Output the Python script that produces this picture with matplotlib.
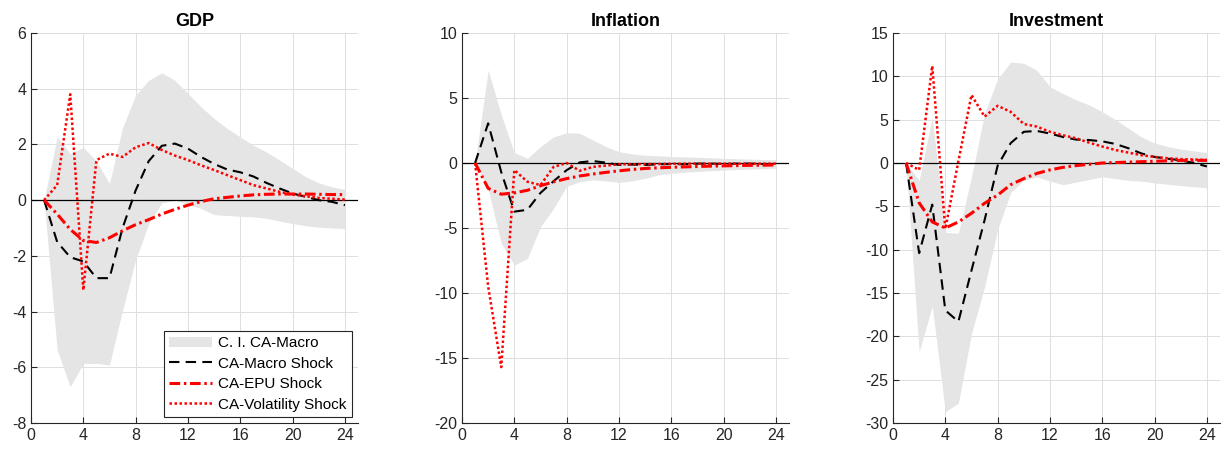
import numpy as np
import matplotlib
matplotlib.use('Agg')
import matplotlib.pyplot as plt

plt.rcParams['font.family'] = ['Liberation Sans', 'DejaVu Sans']
plt.rcParams['axes.unicode_minus'] = False

horizon = list(range(1, 25))

# GDP
gdp_macro = [0, -1.5, -2.05, -2.2, -2.8, -2.8, -1.0, 0.35, 1.4, 1.95, 2.03, 1.85,
             1.55, 1.3, 1.1, 1.0, 0.85, 0.62, 0.42, 0.24, 0.12, 0.0, -0.06, -0.18]
gdp_epu = [0, -0.5, -1.05, -1.45, -1.52, -1.35, -1.1, -0.88, -0.7, -0.5, -0.33, -0.18,
           -0.05, 0.05, 0.1, 0.15, 0.19, 0.21, 0.22, 0.22, 0.22, 0.21, 0.2, 0.2]
gdp_vol = [0, 0.54, 3.8, -3.23, 1.44, 1.67, 1.55, 1.9, 2.05, 1.8, 1.6, 1.44,
           1.25, 1.08, 0.9, 0.72, 0.54, 0.42, 0.3, 0.2, 0.14, 0.08, 0.05, 0.02]
gdp_hi = [0, 2.27, 1.67, 1.9, 1.4, 0.6, 2.6, 3.77, 4.3, 4.57, 4.3, 3.83,
          3.35, 2.93, 2.57, 2.27, 1.97, 1.73, 1.44, 1.14, 0.84, 0.62, 0.48, 0.38]
gdp_lo = [0, -5.38, -6.7, -5.86, -5.86, -5.92, -3.95, -2.15, -0.84, -0.1, 0.0, -0.15,
          -0.3, -0.52, -0.55, -0.58, -0.6, -0.65, -0.75, -0.84, -0.92, -0.97, -1.0, -1.02]

# Inflation
inf_macro = [0, 3.05, -0.7, -3.74, -3.6, -2.3, -1.4, -0.55, 0.05, 0.15, 0.03, -0.15,
             -0.12, -0.15, -0.1, -0.08, -0.1, -0.05, -0.05, -0.08, -0.05, -0.05, -0.08, -0.1]
inf_epu = [0, -1.95, -2.4, -2.3, -2.1, -1.75, -1.45, -1.2, -1.0, -0.85, -0.72, -0.6,
           -0.5, -0.42, -0.37, -0.33, -0.3, -0.27, -0.24, -0.22, -0.2, -0.18, -0.17, -0.15]
inf_vol = [0, -9.5, -15.7, -0.54, -1.44, -1.7, -0.3, 0.0, -0.6, -0.3, -0.2, -0.1,
           -0.1, -0.08, -0.08, -0.06, -0.05, -0.05, -0.05, -0.05, -0.05, -0.05, -0.05, -0.05]
inf_hi = [0, 7.15, 3.7, 0.8, 0.36, 1.26, 2.0, 2.33, 2.28, 1.77, 1.26, 0.87,
          0.7, 0.6, 0.55, 0.5, 0.47, 0.44, 0.4, 0.36, 0.33, 0.3, 0.27, 0.25]
inf_lo = [0, -2.0, -6.2, -7.85, -7.35, -4.9, -3.5, -1.8, -1.44, -1.3, -1.38, -1.49,
          -1.38, -1.18, -0.92, -0.8, -0.7, -0.65, -0.6, -0.55, -0.5, -0.47, -0.43, -0.4]

# Investment
inv_macro = [0, -10.4, -4.8, -17.0, -18.3, -12.4, -6.6, -0.3, 2.3, 3.6, 3.7, 3.4,
             3.0, 2.7, 2.65, 2.5, 2.2, 1.7, 1.1, 0.7, 0.5, 0.3, 0.0, -0.4]
inv_epu = [0, -4.6, -6.8, -7.5, -6.8, -5.8, -4.65, -3.7, -2.5, -1.8, -1.2, -0.8,
           -0.5, -0.3, -0.15, 0.0, 0.05, 0.1, 0.15, 0.2, 0.25, 0.3, 0.3, 0.3]
inv_vol = [0, -0.8, 11.2, -7.6, 0.2, 7.85, 5.35, 6.6, 5.9, 4.5, 4.2, 3.6,
           3.2, 2.85, 2.35, 1.9, 1.5, 1.2, 0.9, 0.7, 0.55, 0.45, 0.4, 0.35]
inv_hi = [0, -2.0, 5.3, -8.0, -8.1, -1.6, 5.7, 9.7, 11.65, 11.5, 10.7, 8.8,
          8.0, 7.3, 6.7, 5.9, 5.0, 4.0, 3.0, 2.3, 1.9, 1.6, 1.4, 1.2]
inv_lo = [0, -21.8, -16.5, -28.7, -27.7, -19.7, -14.3, -7.7, -3.4, -2.0, -1.6, -2.1,
          -2.5, -2.2, -1.9, -1.6, -1.8, -2.0, -2.1, -2.3, -2.45, -2.6, -2.75, -2.85]

panels = [
    ('GDP', gdp_macro, gdp_epu, gdp_vol, gdp_hi, gdp_lo, (-8, 6), np.arange(-8, 7, 2)),
    ('Inflation', inf_macro, inf_epu, inf_vol, inf_hi, inf_lo, (-20, 10), np.arange(-20, 11, 5)),
    ('Investment', inv_macro, inv_epu, inv_vol, inv_hi, inv_lo, (-30, 15), np.arange(-30, 16, 5)),
]

fig = plt.figure(figsize=(12.23, 4.53), dpi=100)
lefts = [31 / 1223, 462 / 1223, 893 / 1223]
axc = '#262626'

for i, (title, macro, epu, vol, hi, lo, ylim, yticks) in enumerate(panels):
    ax = fig.add_axes([lefts[i], 30 / 453, 327 / 1223, 390 / 453])
    band = ax.fill_between(horizon, lo, hi, color='#e5e5e5', linewidth=0, zorder=1,
                           label='C. I. CA-Macro')
    ax.axhline(0, color='black', lw=0.9, zorder=2)
    l1, = ax.plot(horizon, macro, color='black', lw=1.5, dashes=(5, 3), zorder=3,
                  label='CA-Macro Shock')
    l2, = ax.plot(horizon, epu, color='red', lw=2.2, dashes=(3.5, 1.2, 0.8, 1.2), zorder=4,
                  label='CA-EPU Shock')
    l3, = ax.plot(horizon, vol, color='red', lw=1.8, dashes=(1, 1), zorder=5,
                  label='CA-Volatility Shock')

    ax.set_xlim(0, 25)
    ax.set_ylim(*ylim)
    ax.set_xticks(range(0, 25, 4))
    ax.set_yticks(yticks)
    ax.set_title(title, fontsize=13, fontweight='bold', pad=5)
    ax.grid(True, color='#dedede', lw=0.7)
    ax.set_axisbelow(True)
    for s in ['top', 'right']:
        ax.spines[s].set_visible(False)
    for s in ['left', 'bottom']:
        ax.spines[s].set_color(axc)
        ax.spines[s].set_linewidth(0.8)
    ax.tick_params(direction='in', length=4, width=0.8, colors=axc, labelsize=11.5,
                   labelcolor=axc)

    if i == 0:
        leg = ax.legend(handles=[band, l1, l2, l3], loc='lower right', fontsize=11,
                        fancybox=False, framealpha=1, edgecolor=axc, handlelength=2.8,
                        borderaxespad=0.4, borderpad=0.35, labelspacing=0.42,
                        handletextpad=0.4)
        leg.get_frame().set_linewidth(0.8)

fig.savefig('out.png', dpi=100)
